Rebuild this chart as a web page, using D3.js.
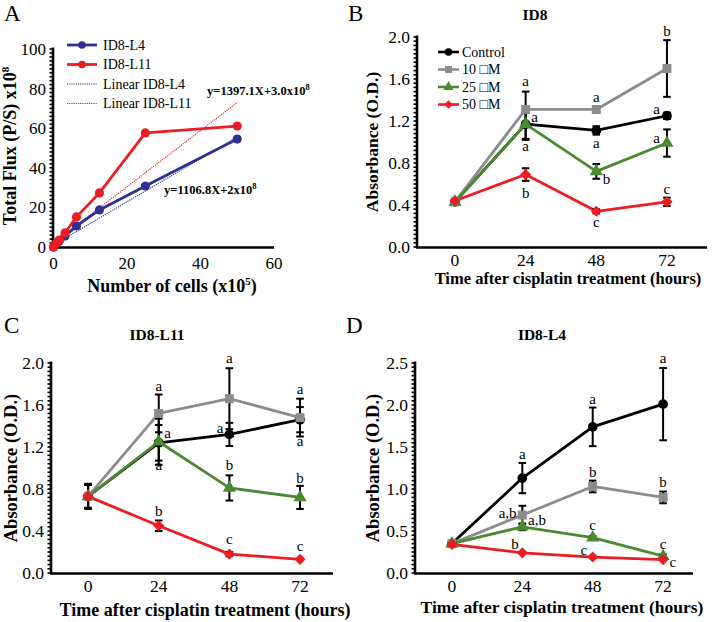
<!DOCTYPE html>
<html>
<head>
<meta charset="utf-8">
<script src="https://cdn.jsdelivr.net/npm/d3@7"></script>
<style>
  html, body { margin: 0; padding: 0; background: #fff; }
  svg { display: block; }
  svg text { font-family: "Liberation Serif", "Times New Roman", Times, serif; }
</style>
</head>
<body>
<svg id="chart" width="712" height="622" font-family="Liberation Serif, Times New Roman, serif"></svg>
<script>
// ---------------- DATA ----------------
// Panel A
const cellCounts = [0, 0.78, 1.56, 3.125, 6.25, 12.5, 25, 50];
const fluxL4 = [0, 1.5, 3, 5.5, 10.6, 18.7, 30.8, 54.5];
const fluxL11 = [0, 2, 3.5, 7.1, 15.2, 27.3, 57.6, 61.1];
const fitL4 = [[0, 1], [50, 55.5]];
const fitL11 = [[0, 2], [50, 73]];
const legendA = ["ID8-L4", "ID8-L11", "Linear ID8-L4", "Linear ID8-L11"];
const eqL11 = { x: 41.8, y: 76.8, text: "y=1397.1X+3.0x10", sup: "8" };
const eqL4 = { x: 30.1, y: 26.8, text: "y=1106.8X+2x10", sup: "8" };
const ticksA_x = [0, 20, 40, 60];
const ticksA_y = [0, 20, 40, 60, 80, 100];

// Panels B-D
const hours = [0, 24, 48, 72];
const seriesNames = ["Control", "10 \u25A1M", "25 \u25A1M", "50 \u25A1M"];

// B: ID8
const B_control = [0.43, 1.17, 1.11, 1.25], B_control_err = [0.01, 0.14, 0.04, 0.03];
const B_10 = [0.43, 1.31, 1.31, 1.70], B_10_err = [0.01, 0.17, 0.03, 0.27];
const B_25 = [0.43, 1.17, 0.72, 0.99], B_25_err = [0.01, 0.15, 0.07, 0.13];
const B_50 = [0.44, 0.69, 0.34, 0.43], B_50_err = [0.01, 0.06, 0.02, 0.04];
const B_letters = [
  [24, 1.58, "a"], [27, 1.23, "a"], [24, 0.955, "a"], [24, 0.51, "b"],
  [48, 1.42, "a"], [48, 0.99, "a"], [51.5, 0.64, "b"], [48, 0.23, "c"],
  [72, 2.05, "b"], [68.5, 1.31, "a"], [68.5, 1.035, "a"], [72, 0.55, "c"]
];

// C: ID8-L11
const C_control = [0.73, 1.24, 1.32, 1.46], C_control_err = [0.11, 0.17, 0.11, 0.12];
const C_10 = [0.73, 1.52, 1.66, 1.48], C_10_err = [0.11, 0.18, 0.29, 0.18];
const C_25 = [0.73, 1.25, 0.81, 0.72], C_25_err = [0.11, 0.22, 0.12, 0.11];
const C_50 = [0.73, 0.45, 0.18, 0.13], C_50_err = [0.12, 0.05, 0.02, 0.01];
const C_letters = [
  [24, 1.78, "a"], [27, 1.33, "a"], [24, 1.02, "a"], [24, 0.59, "b"],
  [48, 2.04, "a"], [44.8, 1.38, "a"], [48, 1.02, "b"], [48, 0.32, "c"],
  [72, 1.75, "a"], [72, 1.25, "a"], [72, 0.90, "b"], [72, 0.25, "c"]
];

// D: ID8-L4
const D_control = [0.35, 1.13, 1.74, 2.01], D_control_err = [0.02, 0.18, 0.23, 0.43];
const D_10 = [0.35, 0.69, 1.03, 0.90], D_10_err = [0.02, 0.11, 0.07, 0.07];
const D_25 = [0.35, 0.55, 0.42, 0.20], D_25_err = [0.02, 0.04, 0.02, 0.02];
const D_50 = [0.34, 0.24, 0.19, 0.16], D_50_err = [0.02, 0.01, 0.01, 0.01];
const D_letters = [
  [24, 1.41, "a"], [19, 0.71, "a,b"], [29, 0.63, "a,b"], [21.5, 0.34, "b"],
  [48, 2.07, "a"], [48, 1.20, "b"], [48, 0.56, "c"], [45, 0.27, "c"],
  [72, 2.55, "a"], [72, 1.08, "b"], [72, 0.34, "c"], [75.3, 0.12, "c"]
];

// ---------------- STYLE ----------------
const FONT = "Liberation Serif, Times New Roman, serif";
const COL = { black: "#000000", gray: "#8c8c8c", green: "#4a8a30", red: "#ec1c24", blue: "#2e3192" };
const seriesStyle = [
  { color: COL.black, sym: d3.symbolCircle, size: 75, rot: 0 },
  { color: COL.gray, sym: d3.symbolSquare, size: 80, rot: 0 },
  { color: COL.green, sym: d3.symbolTriangle, size: 75, rot: 0 },
  { color: COL.red, sym: d3.symbolSquare, size: 62, rot: 45 }
];

const svg = d3.select("#chart");

function drawYAxis(g, y, x0, ticks, minorStep, fmt, fs) {
  const [d0, d1] = y.domain();
  const minors = d3.range(d0, d1 + 1e-9, minorStep);
  g.append("g").selectAll("line").data(minors).join("line")
    .attr("x1", x0 - 3.5).attr("x2", x0).attr("y1", d => y(d)).attr("y2", d => y(d))
    .attr("stroke", "#000").attr("stroke-width", 1.6);
  g.append("line").attr("x1", x0).attr("x2", x0).attr("y1", y(d0) + 1).attr("y2", y(d1) - 1.5)
    .attr("stroke", "#000").attr("stroke-width", 2.6);
  g.append("g").selectAll("text").data(ticks).join("text")
    .attr("x", x0 - 7).attr("y", d => y(d)).attr("dy", "0.35em")
    .attr("font-family", FONT)
    .attr("text-anchor", "end").attr("font-size", fs).text(fmt);
}

function drawXAxis(g, x, yPix, x1, x2, ticks, fs, labelY) {
  g.append("line").attr("x1", x1).attr("x2", x2).attr("y1", yPix).attr("y2", yPix)
    .attr("stroke", "#000").attr("stroke-width", 2.6);
  g.append("g").selectAll("text").data(ticks).join("text")
    .attr("x", d => x(d)).attr("y", labelY)
    .attr("font-family", FONT)
    .attr("text-anchor", "middle").attr("font-size", fs).text(d => d);
}

// ---------------- PANEL A ----------------
(function () {
  const g = svg.append("g").attr("font-family", FONT);
  const x = d3.scaleLinear().domain([0, 60]).range([53.5, 274]);
  const y = d3.scaleLinear().domain([0, 100]).range([247, 49]);
  drawYAxis(g, y, 53, ticksA_y, 2, d => d, 17);
  drawXAxis(g, x, 247.5, 52, 274, ticksA_x, 17, 269);

  const line = d3.line().x(d => x(d[0])).y(d => y(d[1]));
  g.append("path").datum(fitL4).attr("d", line).attr("fill", "none")
    .attr("stroke", COL.blue).attr("stroke-width", 1.1).attr("stroke-dasharray", "1.2,1");
  g.append("path").datum(fitL11).attr("d", line).attr("fill", "none")
    .attr("stroke", COL.red).attr("stroke-width", 1.1).attr("stroke-dasharray", "1.2,1");
  const sets = [[fluxL4, COL.blue], [fluxL11, COL.red]];
  sets.forEach(([vals, c]) => {
    const pts = cellCounts.map((cx, i) => [cx, vals[i]]);
    g.append("path").datum(pts).attr("d", line).attr("fill", "none")
      .attr("stroke", c).attr("stroke-width", 2.8).attr("stroke-linejoin", "round");
    g.append("g").selectAll("circle").data(pts).join("circle")
      .attr("cx", d => x(d[0])).attr("cy", d => y(d[1])).attr("r", 4.6).attr("fill", c);
  });
  [eqL11, eqL4].forEach(e => {
    const t = g.append("text").attr("x", x(e.x)).attr("y", y(e.y))
      .attr("font-size", 12.5).attr("font-weight", "bold");
    t.append("tspan").text(e.text);
    t.append("tspan").attr("dy", -5).attr("font-size", 8.5).text(e.sup);
  });
  const lg = g.append("g");
  const rowsY = [45, 64.5, 84, 103.5];
  legendA.forEach((name, i) => {
    const c = i % 2 === 0 ? COL.blue : COL.red;
    if (i < 2) {
      lg.append("line").attr("x1", 67).attr("x2", 97).attr("y1", rowsY[i]).attr("y2", rowsY[i])
        .attr("stroke", c).attr("stroke-width", 2.8);
      lg.append("circle").attr("cx", 82).attr("cy", rowsY[i]).attr("r", 3.8).attr("fill", c);
    } else {
      lg.append("line").attr("x1", 67).attr("x2", 97).attr("y1", rowsY[i]).attr("y2", rowsY[i])
        .attr("stroke", c).attr("stroke-width", 1.1).attr("stroke-dasharray", "1.2,1");
    }
    lg.append("text").attr("x", 103).attr("y", rowsY[i]).attr("dy", "0.35em")
      .attr("font-size", 14).text(name);
  });
  const yt = g.append("text").attr("transform", "translate(16,146) rotate(-90)")
    .attr("text-anchor", "middle").attr("font-size", 18).attr("font-weight", "bold");
  yt.append("tspan").text("Total Flux (P/S) x10");
  yt.append("tspan").attr("dy", -7).attr("font-size", 11).text("8");
  const xt = g.append("text").attr("x", 172).attr("y", 292)
    .attr("text-anchor", "middle").attr("font-size", 18).attr("font-weight", "bold");
  xt.append("tspan").text("Number of cells (x10");
  xt.append("tspan").attr("dy", -7).attr("font-size", 11).text("5");
  xt.append("tspan").attr("dy", 7).text(")");
  g.append("text").attr("x", 4).attr("y", 21).attr("font-size", 23).text("A");
})();

// ---------------- PANELS B-D ----------------
function timePanel(cfg) {
  const g = svg.append("g").attr("font-family", FONT);
  const x = d3.scaleLinear().domain(cfg.xDomain).range([cfg.left, cfg.right]);
  const y = d3.scaleLinear().domain([0, cfg.yMax]).range([cfg.bottom, cfg.top]);
  drawYAxis(g, y, cfg.left, cfg.yTicks, cfg.minor, cfg.fmt, 17.5);
  drawXAxis(g, x, cfg.bottom + 0.5, cfg.left - 1, cfg.right, hours, 17.5, cfg.bottom + 19);

  const line = d3.line().x(d => x(d[0])).y(d => y(d[1]));
  cfg.series.forEach((s, k) => {
    const st = seriesStyle[k];
    const pts = hours.map((h, i) => [h, s.v[i], s.e[i]]);
    g.append("path").datum(pts).attr("d", line).attr("fill", "none")
      .attr("stroke", st.color).attr("stroke-width", 2.8).attr("stroke-linejoin", "round");
  });
  cfg.series.forEach((s, k) => {
    const pts = hours.map((h, i) => [h, s.v[i], s.e[i]]);
    const eb = g.append("g").attr("stroke", "#000").attr("stroke-width", 2);
    pts.forEach(p => {
      if (p[2] <= 0.012) return;
      const xx = x(p[0]), y1 = y(p[1] + p[2]), y2 = y(p[1] - p[2]);
      eb.append("line").attr("x1", xx).attr("x2", xx).attr("y1", y1).attr("y2", y2);
      eb.append("line").attr("x1", xx - 3.8).attr("x2", xx + 3.8).attr("y1", y1).attr("y2", y1);
      eb.append("line").attr("x1", xx - 3.8).attr("x2", xx + 3.8).attr("y1", y2).attr("y2", y2);
    });
  });
  cfg.series.forEach((s, k) => {
    const st = seriesStyle[k];
    const pts = hours.map((h, i) => [h, s.v[i]]);
    g.append("g").selectAll("path").data(pts).join("path")
      .attr("transform", d => `translate(${x(d[0])},${y(d[1])}) rotate(${st.rot})`)
      .attr("d", d3.symbol().type(st.sym).size(st.size)).attr("fill", st.color);
  });
  g.append("g").selectAll("text").data(cfg.letters).join("text")
    .attr("x", d => x(d[0])).attr("y", d => y(d[1])).attr("dy", "0.3em")
    .attr("text-anchor", "middle").attr("font-size", 15).text(d => d[2]);
  if (cfg.legend) {
    const rows = [52, 69.5, 87, 104.5];
    seriesNames.forEach((n, k) => {
      const st = seriesStyle[k];
      g.append("line").attr("x1", 438).attr("x2", 459).attr("y1", rows[k]).attr("y2", rows[k])
        .attr("stroke", st.color).attr("stroke-width", 2.6);
      g.append("path").attr("transform", `translate(448.5,${rows[k]}) rotate(${st.rot})`)
        .attr("d", d3.symbol().type(st.sym).size(st.size * 0.6)).attr("fill", st.color);
      g.append("text").attr("x", 462).attr("y", rows[k]).attr("dy", "0.35em")
        .attr("font-size", 14).text(n);
    });
  }
  g.append("text").attr("x", cfg.titleX).attr("y", cfg.titleY)
    .attr("text-anchor", "middle").attr("font-size", 15.5).attr("font-weight", "bold").text(cfg.title);
  g.append("text").attr("transform", `translate(${cfg.yTitleX},${(cfg.top + cfg.bottom) / 2}) rotate(-90)`)
    .attr("text-anchor", "middle").attr("font-size", cfg.titleFs).attr("font-weight", "bold")
    .text("Absorbance (O.D.)");
  g.append("text").attr("x", cfg.xTitleX).attr("y", cfg.xTitleY)
    .attr("text-anchor", "middle").attr("font-size", cfg.xTitleFs).attr("font-weight", "bold")
    .text("Time after cisplatin treatment (hours)");
  g.append("text").attr("x", cfg.labelX).attr("y", cfg.labelY).attr("font-size", 23).text(cfg.label);
}

const fmt1 = d => d.toFixed(1);

timePanel({
  label: "B", labelX: 348, labelY: 21, title: "ID8", titleX: 535, titleY: 20,
  left: 417, right: 707, top: 37, bottom: 247, xDomain: [-12.9, 85.6], yMax: 2.0,
  yTicks: [0, 0.4, 0.8, 1.2, 1.6, 2.0], minor: 0.04, fmt: fmt1,
  yTitleX: 378, titleFs: 17.5, xTitleX: 568, xTitleY: 284, xTitleFs: 16.5,
  legend: true, letters: B_letters,
  series: [
    { v: B_control, e: B_control_err }, { v: B_10, e: B_10_err },
    { v: B_25, e: B_25_err }, { v: B_50, e: B_50_err }
  ]
});

timePanel({
  label: "C", labelX: 4, labelY: 333, title: "ID8-L11", titleX: 157, titleY: 340,
  left: 51, right: 333, top: 363, bottom: 573, xDomain: [-12.6, 83.2], yMax: 2.0,
  yTicks: [0, 0.4, 0.8, 1.2, 1.6, 2.0], minor: 0.04, fmt: fmt1,
  yTitleX: 17, titleFs: 18.5, xTitleX: 205, xTitleY: 616, xTitleFs: 18,
  legend: false, letters: C_letters,
  series: [
    { v: C_control, e: C_control_err }, { v: C_10, e: C_10_err },
    { v: C_25, e: C_25_err }, { v: C_50, e: C_50_err }
  ]
});

timePanel({
  label: "D", labelX: 346, labelY: 333, title: "ID8-L4", titleX: 542, titleY: 340,
  left: 415, right: 693, top: 363, bottom: 573, xDomain: [-12.6, 82.2], yMax: 2.5,
  yTicks: [0, 0.5, 1.0, 1.5, 2.0, 2.5], minor: 0.05, fmt: fmt1,
  yTitleX: 379, titleFs: 18.5, xTitleX: 562, xTitleY: 613, xTitleFs: 17.5,
  legend: false, letters: D_letters,
  series: [
    { v: D_control, e: D_control_err }, { v: D_10, e: D_10_err },
    { v: D_25, e: D_25_err }, { v: D_50, e: D_50_err }
  ]
});
</script>
</body>
</html>
